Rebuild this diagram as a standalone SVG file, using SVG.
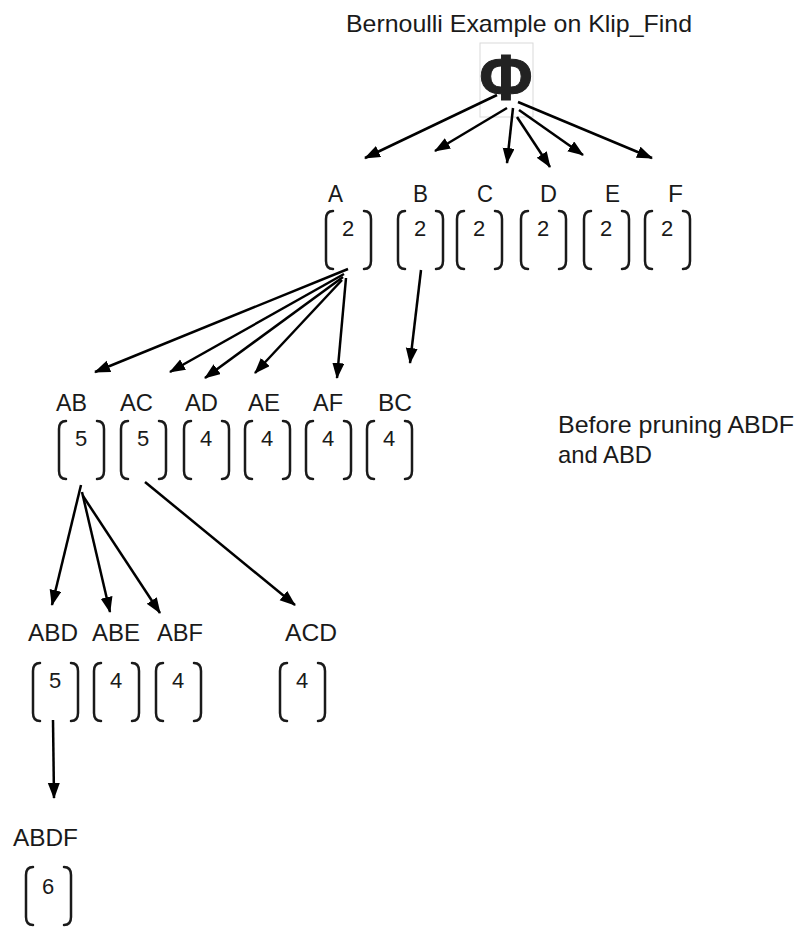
<svg xmlns="http://www.w3.org/2000/svg" xmlns:xlink="http://www.w3.org/1999/xlink" width="799" height="928" viewBox="0 0 799 928">
<style>
.lbl{font-family:"Liberation Sans",Arial,sans-serif;font-size:23px;fill:#1a1a1a}
.num{font-family:"Liberation Sans",Arial,sans-serif;font-size:22px;fill:#1a1a1a;text-anchor:middle}
.txt{font-family:"Liberation Sans",Arial,sans-serif;font-size:24px;fill:#1a1a1a}
.br{fill:none;stroke:#1a1a1a;stroke-width:2.5;stroke-linecap:round}
.edge{fill:none;stroke:#000;stroke-width:2.5}
</style>
<defs>
<marker id="ah" markerUnits="userSpaceOnUse" markerWidth="17" markerHeight="13" refX="15" refY="6" orient="auto">
<path d="M0,0 L16,6 L0,12 z" fill="#000"/>
</marker>
<g id="brk">
<path class="br" d="M8,1 Q1,1 1,9 L1,51 Q1,59 8,59"/>
<path class="br" d="M39,1 Q46,1 46,9 L46,51 Q46,59 39,59"/>
</g>
</defs>
<rect width="799" height="928" fill="#fff"/>
<text class="txt" x="346" y="32" textLength="346" lengthAdjust="spacingAndGlyphs">Bernoulli Example on Klip_Find</text>
<g id="phi">
<rect x="480" y="43" width="53" height="74" fill="none" stroke="#d9d9d9" stroke-width="1"/>
<text x="506" y="100" style="font-family:'Liberation Sans',Arial,sans-serif;font-size:65px;font-weight:bold;fill:#222;text-anchor:middle;stroke:#222;stroke-width:1">Φ</text>
</g>
<g id="connectors">
<line class="edge" x1="497" y1="95" x2="365" y2="158" marker-end="url(#ah)"/>
<line class="edge" x1="507" y1="108" x2="435" y2="151" marker-end="url(#ah)"/>
<line class="edge" x1="513" y1="108" x2="507" y2="163" marker-end="url(#ah)"/>
<line class="edge" x1="517" y1="117" x2="550" y2="167" marker-end="url(#ah)"/>
<line class="edge" x1="519" y1="110" x2="583" y2="155" marker-end="url(#ah)"/>
<line class="edge" x1="518" y1="102" x2="652" y2="158" marker-end="url(#ah)"/>
<line class="edge" x1="348" y1="269" x2="95" y2="372" marker-end="url(#ah)"/>
<line class="edge" x1="344" y1="274" x2="170" y2="372" marker-end="url(#ah)"/>
<line class="edge" x1="343" y1="277" x2="205" y2="378" marker-end="url(#ah)"/>
<line class="edge" x1="342" y1="280" x2="255" y2="373" marker-end="url(#ah)"/>
<line class="edge" x1="346" y1="278" x2="337" y2="378" marker-end="url(#ah)"/>
<line class="edge" x1="421" y1="270" x2="410" y2="363" marker-end="url(#ah)"/>
<line class="edge" x1="81" y1="485" x2="52" y2="605" marker-end="url(#ah)"/>
<line class="edge" x1="82" y1="492" x2="110" y2="612" marker-end="url(#ah)"/>
<line class="edge" x1="83" y1="496" x2="160" y2="613" marker-end="url(#ah)"/>
<line class="edge" x1="145" y1="482" x2="295" y2="605" marker-end="url(#ah)"/>
<line class="edge" x1="53" y1="720" x2="54" y2="798" marker-end="url(#ah)"/>
</g>
<g id="A"><text class="lbl" x="328" y="202" textLength="15" lengthAdjust="spacingAndGlyphs">A</text><use xlink:href="#brk" x="325" y="210"/><text class="num" x="348" y="236">2</text></g>
<g id="B"><text class="lbl" x="413" y="202" textLength="15" lengthAdjust="spacingAndGlyphs">B</text><use xlink:href="#brk" x="397" y="210"/><text class="num" x="420" y="236">2</text></g>
<g id="C"><text class="lbl" x="477" y="202" textLength="16" lengthAdjust="spacingAndGlyphs">C</text><use xlink:href="#brk" x="456" y="210"/><text class="num" x="479" y="236">2</text></g>
<g id="D"><text class="lbl" x="540" y="202" textLength="17" lengthAdjust="spacingAndGlyphs">D</text><use xlink:href="#brk" x="520" y="210"/><text class="num" x="543" y="236">2</text></g>
<g id="E"><text class="lbl" x="605" y="202" textLength="15" lengthAdjust="spacingAndGlyphs">E</text><use xlink:href="#brk" x="583" y="210"/><text class="num" x="606" y="236">2</text></g>
<g id="F"><text class="lbl" x="668" y="202" textLength="15" lengthAdjust="spacingAndGlyphs">F</text><use xlink:href="#brk" x="644" y="210"/><text class="num" x="667" y="236">2</text></g>
<g id="AB"><text class="lbl" x="56" y="411" textLength="31" lengthAdjust="spacingAndGlyphs">AB</text><use xlink:href="#brk" x="58" y="420"/><text class="num" x="81" y="446">5</text></g>
<g id="AC"><text class="lbl" x="120" y="411" textLength="33" lengthAdjust="spacingAndGlyphs">AC</text><use xlink:href="#brk" x="120" y="420"/><text class="num" x="143" y="446">5</text></g>
<g id="AD"><text class="lbl" x="185" y="411" textLength="33" lengthAdjust="spacingAndGlyphs">AD</text><use xlink:href="#brk" x="183" y="420"/><text class="num" x="206" y="446">4</text></g>
<g id="AE"><text class="lbl" x="248" y="411" textLength="32" lengthAdjust="spacingAndGlyphs">AE</text><use xlink:href="#brk" x="244" y="420"/><text class="num" x="267" y="446">4</text></g>
<g id="AF"><text class="lbl" x="313" y="411" textLength="30" lengthAdjust="spacingAndGlyphs">AF</text><use xlink:href="#brk" x="305" y="420"/><text class="num" x="328" y="446">4</text></g>
<g id="BC"><text class="lbl" x="378" y="411" textLength="34" lengthAdjust="spacingAndGlyphs">BC</text><use xlink:href="#brk" x="366" y="420"/><text class="num" x="389" y="446">4</text></g>
<g id="ABD"><text class="lbl" x="28" y="641" textLength="50" lengthAdjust="spacingAndGlyphs">ABD</text><use xlink:href="#brk" x="32" y="662"/><text class="num" x="55" y="688">5</text></g>
<g id="ABE"><text class="lbl" x="92" y="641" textLength="48" lengthAdjust="spacingAndGlyphs">ABE</text><use xlink:href="#brk" x="93" y="662"/><text class="num" x="116" y="688">4</text></g>
<g id="ABF"><text class="lbl" x="157" y="641" textLength="46" lengthAdjust="spacingAndGlyphs">ABF</text><use xlink:href="#brk" x="155" y="662"/><text class="num" x="178" y="688">4</text></g>
<g id="ACD"><text class="lbl" x="285" y="641" textLength="52" lengthAdjust="spacingAndGlyphs">ACD</text><use xlink:href="#brk" x="279" y="662"/><text class="num" x="302" y="688">4</text></g>
<g id="ABDF"><text class="lbl" x="13" y="846" textLength="65" lengthAdjust="spacingAndGlyphs">ABDF</text><use xlink:href="#brk" x="25" y="866"/><text class="num" x="48" y="894">6</text></g>
<g id="note"><text class="txt" x="558" y="433" textLength="236" lengthAdjust="spacingAndGlyphs">Before pruning ABDF</text><text class="txt" x="558" y="463" textLength="94" lengthAdjust="spacingAndGlyphs">and ABD</text></g>
</svg>
